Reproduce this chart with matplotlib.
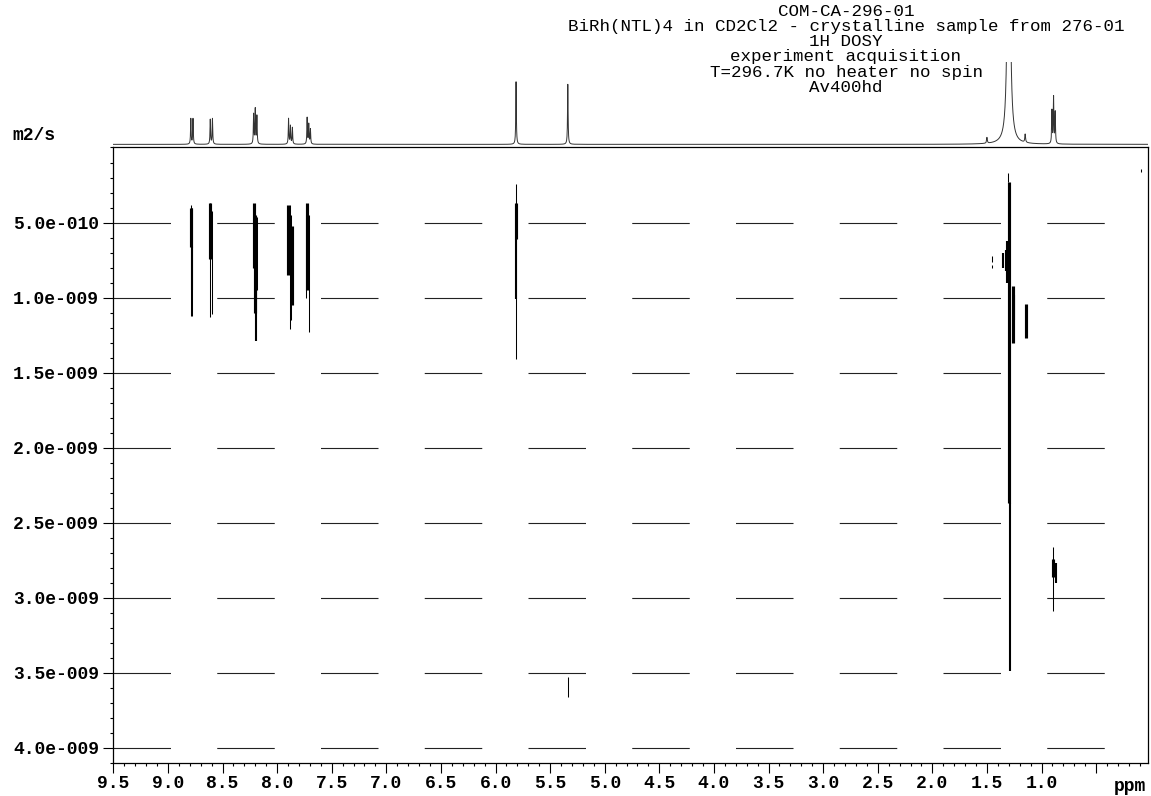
import matplotlib
matplotlib.use("Agg")
import matplotlib.pyplot as plt
import numpy as np
from matplotlib.ticker import FixedLocator, MultipleLocator, FuncFormatter

plt.rcParams['font.family'] = ['Liberation Mono', 'DejaVu Sans Mono']
plt.rcParams['font.weight'] = 'bold'
plt.rcParams['lines.scale_dashes'] = False

title_lines = ["COM-CA-296-01",
               "BiRh(NTL)4 in CD2Cl2 - crystalline sample from 276-01",
               "1H DOSY",
               "experiment acquisition",
               "T=296.7K no heater no spin",
               "Av400hd"]

# 1D projection: line positions (ppm), relative heights, half widths (ppm)
peak_ppm = [8.790, 8.770, 8.612, 8.592, 8.215, 8.200, 8.185,
            7.895, 7.878, 7.860, 7.725, 7.710, 7.695,
            5.812, 5.338, 1.500, 1.300, 1.150, 0.905, 0.890, 0.875]
peak_height = [0.31, 0.31, 0.30, 0.31, 0.36, 0.42, 0.34,
               0.31, 0.22, 0.20, 0.32, 0.24, 0.18,
               0.76, 0.73, 0.07, 6.0, 0.10, 0.40, 0.56, 0.38]
peak_hw = [0.003, 0.003, 0.003, 0.003, 0.003, 0.003, 0.003,
           0.003, 0.003, 0.003, 0.003, 0.003, 0.003,
           0.003, 0.003, 0.004, 0.010, 0.004, 0.003, 0.003, 0.003]

# 2D DOSY cross peaks: shift (ppm), D range (1e-9 m2/s), contour level
streak_ppm = [8.790, 8.790, 8.775, 8.780,
              8.612, 8.612, 8.598,
              8.215, 8.200, 8.190, 8.185,
              7.900, 7.885, 7.860, 7.870,
              7.725, 7.705, 7.740,
              5.809, 5.809, 5.809,
              5.336,
              1.305, 1.300, 1.288, 1.265, 1.255,
              1.330, 1.350, 1.320, 1.458, 1.458,
              1.146, 0.090,
              0.896, 0.896, 0.868]
streak_d_top = [0.38, 0.40, 0.40, 0.66,
                0.37, 0.37, 0.42,
                0.37, 0.45, 0.60, 0.46,
                0.38, 0.38, 0.52, 0.45,
                0.37, 0.45, 0.45,
                0.24, 0.37, 0.61,
                3.53,
                0.17, 0.23, 2.37, 0.92, 0.98,
                0.68, 0.70, 0.62, 0.72, 0.78,
                1.045, 0.14,
                2.66, 2.74, 2.77]
streak_d_bot = [1.12, 0.66, 1.12, 0.95,
                1.13, 0.74, 1.11,
                0.80, 1.10, 1.29, 0.95,
                0.85, 1.21, 1.05, 1.15,
                0.95, 1.23, 1.00,
                1.41, 0.61, 1.01,
                3.66,
                0.23, 2.37, 3.49, 1.30, 1.15,
                0.82, 0.80, 0.90, 0.76, 0.80,
                1.27, 0.16,
                3.09, 2.86, 2.90]
streak_level = [0, 2, 0, 1,
                0, 2, 0,
                2, 2, 1, 0,
                2, 0, 2, 0,
                2, 0, 0,
                0, 2, 1,
                0,
                0, 2, 1, 2, 1,
                1, 1, 1, 0, 0,
                2, 0,
                0, 2, 1]

d_ticks = [0.5e-9, 1.0e-9, 1.5e-9, 2.0e-9, 2.5e-9, 3.0e-9, 3.5e-9, 4.0e-9]
ppm_ticks = [9.5, 9.0, 8.5, 8.0, 7.5, 7.0, 6.5, 6.0, 5.5, 5.0,
             4.5, 4.0, 3.5, 3.0, 2.5, 2.0, 1.5, 1.0, 0.5]
ppm_labels = ["9.5", "9.0", "8.5", "8.0", "7.5", "7.0", "6.5", "6.0", "5.5", "5.0",
              "4.5", "4.0", "3.5", "3.0", "2.5", "2.0", "1.5", "1.0", ""]

W, H = 1151, 796
fig = plt.figure(figsize=(W / 100, H / 100), dpi=100)

x_left, x_right = 9.5, 0.03
ax_l, ax_r = 113.3, 1147.5
ax_t, ax_b = 147.5, 762.7

ax = fig.add_axes([ax_l / W, 1 - ax_b / H, (ax_r - ax_l) / W, (ax_b - ax_t) / H])
ax.set_xlim(x_left, x_right)
ax.set_ylim(4.1e-9, 0)

for d in d_ticks:
    ax.axhline(d, color='#222222', lw=0.8, dashes=(41.4, 33.3))

lw = [0.75 + 0.75 * lv for lv in streak_level]
ax.vlines(streak_ppm, np.array(streak_d_top) * 1e-9, np.array(streak_d_bot) * 1e-9,
          colors='black', linewidths=lw)

def d_fmt(v, pos):
    m, e = f"{v:.1e}".split("e")
    return f"{m}e{int(e):+04d}"

ax.yaxis.set_major_locator(FixedLocator(d_ticks))
ax.yaxis.set_major_formatter(FuncFormatter(d_fmt))
ax.yaxis.set_minor_locator(MultipleLocator(1e-10))
ax.xaxis.set_major_locator(FixedLocator(ppm_ticks))
ax.set_xticklabels(ppm_labels)
ax.xaxis.set_minor_locator(MultipleLocator(0.1))
ax.tick_params(which='major', direction='out', length=7.2, width=0.8, labelsize=13, pad=1.5)
ax.tick_params(which='minor', direction='out', length=2.5, width=0.8)
ax.tick_params(axis='y', pad=3)
for s in ax.spines.values():
    s.set_linewidth(0.9)

ax.annotate("ppm", xy=(0.19, 0), xycoords=('data', 'axes fraction'),
            xytext=(0, -11), textcoords='offset points',
            ha='center', va='top', fontsize=13)

# 1D projection on top
spec = fig.add_axes([ax_l / W, 1 - 146 / H, (ax_r - ax_l) / W, (146 - 62) / H])
ppm = np.linspace(x_right, x_left, 30000)
trace = np.zeros_like(ppm)
for p, h, g in zip(peak_ppm, peak_height, peak_hw):
    trace += h * g ** 2 / ((ppm - p) ** 2 + g ** 2)
spec.plot(ppm, trace, color='#333333', lw=0.7)
spec.set_xlim(x_left, x_right)
spec.set_ylim(-0.02, 1.0)
spec.axis('off')

fig.text(34 / W, 1 - 136 / H, "m2/s", ha='center', va='center', fontsize=13)

for i, line in enumerate(title_lines):
    fig.text(846 / W, 1 - (12 + 15 * i) / H, line, ha='center', va='center',
             fontsize=12.6, fontweight='normal')

fig.savefig("out.png", dpi=100)
